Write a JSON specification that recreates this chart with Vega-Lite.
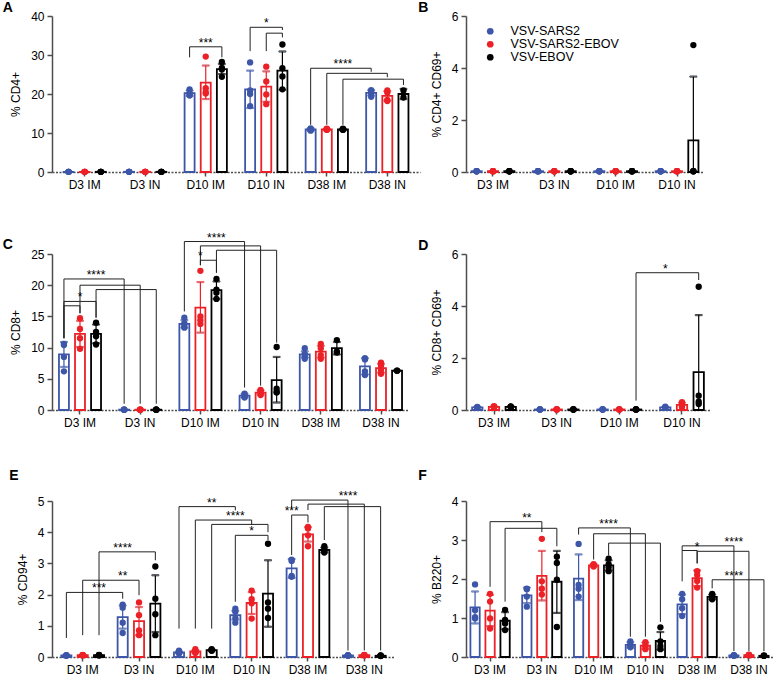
{
"$schema":"https://vega.github.io/schema/vega-lite/v6.json",
"padding":{"left":2,"top":1,"right":0,"bottom":0},
"config":{
 "font":"Liberation Sans",
 "view":{"stroke":null},
 "axis":{"labelFontSize":12,"titleFontSize":12,"titleFontWeight":"normal","labelColor":"#000","titleColor":"#000","grid":false,"domainColor":"#4d4d4d","tickColor":"#4d4d4d","domainWidth":1.5,"tickWidth":1.5,"labelFont":"Liberation Sans","titleFont":"Liberation Sans"},
 "axisX":{"labelAngle":0,"tickSize":4,"labelPadding":3,"domainDash":[2,1.5]},
 "axisY":{"tickSize":5,"labelPadding":3,"titlePadding":8},
 "title":{"fontSize":14,"fontWeight":"bold","anchor":"start","frame":"bounds","font":"Liberation Sans","color":"#000"},
 "legend":{"labelFontSize":12.5,"labelFont":"Liberation Sans","symbolSize":45,"rowPadding":-1.5,"padding":0,"labelOffset":14,"symbolType":"circle","symbolStrokeWidth":0}
},
"columns":2,
"align":"each",
"spacing":{"row":41,"column":-2},
"resolve":{"scale":{"xOffset":"independent","fill":"independent"},"legend":{"fill":"independent"}},
"datasets":{
"bars":[
{"p":"A","c":"D3 IM","g":"S","v":0.05,"lo":0.05,"hi":0.05},{"p":"A","c":"D3 IM","g":"SE","v":0.05,"lo":0.05,"hi":0.05},{"p":"A","c":"D3 IM","g":"E","v":0.05,"lo":0.05,"hi":0.05},
{"p":"A","c":"D3 IN","g":"S","v":0.05,"lo":0.05,"hi":0.05},{"p":"A","c":"D3 IN","g":"SE","v":0.05,"lo":0.05,"hi":0.05},{"p":"A","c":"D3 IN","g":"E","v":0.05,"lo":0.05,"hi":0.05},
{"p":"A","c":"D10 IM","g":"S","v":20.2,"lo":19.5,"hi":20.9},{"p":"A","c":"D10 IM","g":"SE","v":22.9,"lo":18.7,"hi":27.3},{"p":"A","c":"D10 IM","g":"E","v":26.4,"lo":25.1,"hi":27.7},
{"p":"A","c":"D10 IN","g":"S","v":21.2,"lo":16.4,"hi":26.0},{"p":"A","c":"D10 IN","g":"SE","v":21.9,"lo":18.0,"hi":25.8},{"p":"A","c":"D10 IN","g":"E","v":26.0,"lo":21.1,"hi":30.9},
{"p":"A","c":"D38 IM","g":"S","v":10.9,"lo":10.6,"hi":11.2},{"p":"A","c":"D38 IM","g":"SE","v":10.9,"lo":10.7,"hi":11.1},{"p":"A","c":"D38 IM","g":"E","v":10.9,"lo":10.7,"hi":11.1},
{"p":"A","c":"D38 IN","g":"S","v":20.3,"lo":19.6,"hi":21.0},{"p":"A","c":"D38 IN","g":"SE","v":19.5,"lo":18.3,"hi":20.7},{"p":"A","c":"D38 IN","g":"E","v":20.0,"lo":18.7,"hi":21.3},
{"p":"B","c":"D3 IM","g":"S","v":0.03,"lo":0.03,"hi":0.03},{"p":"B","c":"D3 IM","g":"SE","v":0.03,"lo":0.03,"hi":0.03},{"p":"B","c":"D3 IM","g":"E","v":0.03,"lo":0.03,"hi":0.03},
{"p":"B","c":"D3 IN","g":"S","v":0.03,"lo":0.03,"hi":0.03},{"p":"B","c":"D3 IN","g":"SE","v":0.03,"lo":0.03,"hi":0.03},{"p":"B","c":"D3 IN","g":"E","v":0.03,"lo":0.03,"hi":0.03},
{"p":"B","c":"D10 IM","g":"S","v":0.03,"lo":0.03,"hi":0.03},{"p":"B","c":"D10 IM","g":"SE","v":0.03,"lo":0.03,"hi":0.03},{"p":"B","c":"D10 IM","g":"E","v":0.03,"lo":0.03,"hi":0.03},
{"p":"B","c":"D10 IN","g":"S","v":0.03,"lo":0.03,"hi":0.03},{"p":"B","c":"D10 IN","g":"SE","v":0.03,"lo":0.03,"hi":0.03},{"p":"B","c":"D10 IN","g":"E","v":1.22,"lo":0,"hi":3.67},
{"p":"C","c":"D3 IM","g":"S","v":8.9,"lo":6.9,"hi":10.9},{"p":"C","c":"D3 IM","g":"SE","v":12.2,"lo":10.1,"hi":14.3},{"p":"C","c":"D3 IM","g":"E","v":12.2,"lo":10.7,"hi":13.7},
{"p":"C","c":"D3 IN","g":"S","v":0.05,"lo":0.05,"hi":0.05},{"p":"C","c":"D3 IN","g":"SE","v":0.05,"lo":0.05,"hi":0.05},{"p":"C","c":"D3 IN","g":"E","v":0.05,"lo":0.05,"hi":0.05},
{"p":"C","c":"D10 IM","g":"S","v":13.8,"lo":13.2,"hi":14.4},{"p":"C","c":"D10 IM","g":"SE","v":16.4,"lo":12.4,"hi":20.5},{"p":"C","c":"D10 IM","g":"E","v":19.2,"lo":17.8,"hi":20.6},
{"p":"C","c":"D10 IN","g":"S","v":2.3,"lo":2.0,"hi":2.6},{"p":"C","c":"D10 IN","g":"SE","v":2.8,"lo":2.45,"hi":3.15},{"p":"C","c":"D10 IN","g":"E","v":4.8,"lo":1.2,"hi":8.5},
{"p":"C","c":"D38 IM","g":"S","v":8.9,"lo":8.4,"hi":9.4},{"p":"C","c":"D38 IM","g":"SE","v":9.35,"lo":8.4,"hi":10.3},{"p":"C","c":"D38 IM","g":"E","v":9.9,"lo":8.9,"hi":10.9},
{"p":"C","c":"D38 IN","g":"S","v":7.0,"lo":5.7,"hi":8.3},{"p":"C","c":"D38 IN","g":"SE","v":6.7,"lo":6.0,"hi":7.4},{"p":"C","c":"D38 IN","g":"E","v":6.3,"lo":6.25,"hi":6.35},
{"p":"D","c":"D3 IM","g":"S","v":0.1,"lo":0.08,"hi":0.12},{"p":"D","c":"D3 IM","g":"SE","v":0.12,"lo":0.1,"hi":0.14},{"p":"D","c":"D3 IM","g":"E","v":0.12,"lo":0.1,"hi":0.14},
{"p":"D","c":"D3 IN","g":"S","v":0.02,"lo":0.02,"hi":0.02},{"p":"D","c":"D3 IN","g":"SE","v":0.02,"lo":0.02,"hi":0.02},{"p":"D","c":"D3 IN","g":"E","v":0.02,"lo":0.02,"hi":0.02},
{"p":"D","c":"D10 IM","g":"S","v":0.02,"lo":0.02,"hi":0.02},{"p":"D","c":"D10 IM","g":"SE","v":0.02,"lo":0.02,"hi":0.02},{"p":"D","c":"D10 IM","g":"E","v":0.02,"lo":0.02,"hi":0.02},
{"p":"D","c":"D10 IN","g":"S","v":0.1,"lo":0.08,"hi":0.12},{"p":"D","c":"D10 IN","g":"SE","v":0.2,"lo":0.12,"hi":0.28},{"p":"D","c":"D10 IN","g":"E","v":1.46,"lo":0,"hi":3.65},
{"p":"E","c":"D3 IM","g":"S","v":0.05,"lo":0.05,"hi":0.05},{"p":"E","c":"D3 IM","g":"SE","v":0.06,"lo":0.06,"hi":0.06},{"p":"E","c":"D3 IM","g":"E","v":0.06,"lo":0.06,"hi":0.06},
{"p":"E","c":"D3 IN","g":"S","v":1.28,"lo":0.91,"hi":1.65},{"p":"E","c":"D3 IN","g":"SE","v":1.15,"lo":0.7,"hi":1.6},{"p":"E","c":"D3 IN","g":"E","v":1.71,"lo":0.8,"hi":2.62},
{"p":"E","c":"D10 IM","g":"S","v":0.15,"lo":0.12,"hi":0.18},{"p":"E","c":"D10 IM","g":"SE","v":0.18,"lo":0.14,"hi":0.22},{"p":"E","c":"D10 IM","g":"E","v":0.22,"lo":0.2,"hi":0.24},
{"p":"E","c":"D10 IN","g":"S","v":1.34,"lo":1.2,"hi":1.48},{"p":"E","c":"D10 IN","g":"SE","v":1.73,"lo":1.38,"hi":2.08},{"p":"E","c":"D10 IN","g":"E","v":2.03,"lo":0.97,"hi":3.1},
{"p":"E","c":"D38 IM","g":"S","v":2.84,"lo":2.54,"hi":3.14},{"p":"E","c":"D38 IM","g":"SE","v":3.93,"lo":3.7,"hi":4.16},{"p":"E","c":"D38 IM","g":"E","v":3.43,"lo":3.35,"hi":3.51},
{"p":"E","c":"D38 IN","g":"S","v":0.05,"lo":0.05,"hi":0.05},{"p":"E","c":"D38 IN","g":"SE","v":0.06,"lo":0.06,"hi":0.06},{"p":"E","c":"D38 IN","g":"E","v":0.04,"lo":0.04,"hi":0.04},
{"p":"F","c":"D3 IM","g":"S","v":1.27,"lo":0.86,"hi":1.68},{"p":"F","c":"D3 IM","g":"SE","v":1.19,"lo":0.79,"hi":1.59},{"p":"F","c":"D3 IM","g":"E","v":0.93,"lo":0.71,"hi":1.15},
{"p":"F","c":"D3 IN","g":"S","v":1.58,"lo":1.38,"hi":1.78},{"p":"F","c":"D3 IN","g":"SE","v":2.08,"lo":1.45,"hi":2.72},{"p":"F","c":"D3 IN","g":"E","v":1.93,"lo":1.13,"hi":2.72},
{"p":"F","c":"D10 IM","g":"S","v":2.01,"lo":1.46,"hi":2.63},{"p":"F","c":"D10 IM","g":"SE","v":2.35,"lo":2.32,"hi":2.38},{"p":"F","c":"D10 IM","g":"E","v":2.35,"lo":2.22,"hi":2.48},
{"p":"F","c":"D10 IN","g":"S","v":0.31,"lo":0.24,"hi":0.38},{"p":"F","c":"D10 IN","g":"SE","v":0.29,"lo":0.21,"hi":0.37},{"p":"F","c":"D10 IN","g":"E","v":0.41,"lo":0.19,"hi":0.64},
{"p":"F","c":"D38 IM","g":"S","v":1.35,"lo":1.1,"hi":1.6},{"p":"F","c":"D38 IM","g":"SE","v":2.02,"lo":1.82,"hi":2.22},{"p":"F","c":"D38 IM","g":"E","v":1.54,"lo":1.48,"hi":1.6},
{"p":"F","c":"D38 IN","g":"S","v":0.04,"lo":0.04,"hi":0.04},{"p":"F","c":"D38 IN","g":"SE","v":0.05,"lo":0.05,"hi":0.05},{"p":"F","c":"D38 IN","g":"E","v":0.03,"lo":0.03,"hi":0.03}
],
"pts":[
{"p":"A","c":"D3 IM","g":"S","r":1,"v":0.05},{"p":"A","c":"D3 IM","g":"S","r":2,"v":0.05},{"p":"A","c":"D3 IM","g":"S","r":3,"v":0.05},{"p":"A","c":"D3 IM","g":"S","r":4,"v":0.05},
{"p":"A","c":"D3 IM","g":"SE","r":1,"v":0.05},{"p":"A","c":"D3 IM","g":"SE","r":2,"v":0.05},{"p":"A","c":"D3 IM","g":"SE","r":3,"v":0.05},{"p":"A","c":"D3 IM","g":"SE","r":4,"v":0.05},
{"p":"A","c":"D3 IM","g":"E","r":1,"v":0.05},{"p":"A","c":"D3 IM","g":"E","r":2,"v":0.05},{"p":"A","c":"D3 IM","g":"E","r":3,"v":0.05},{"p":"A","c":"D3 IM","g":"E","r":4,"v":0.05},
{"p":"A","c":"D3 IN","g":"S","r":1,"v":0.05},{"p":"A","c":"D3 IN","g":"S","r":2,"v":0.05},{"p":"A","c":"D3 IN","g":"S","r":3,"v":0.05},{"p":"A","c":"D3 IN","g":"S","r":4,"v":0.05},
{"p":"A","c":"D3 IN","g":"SE","r":1,"v":0.05},{"p":"A","c":"D3 IN","g":"SE","r":2,"v":0.05},{"p":"A","c":"D3 IN","g":"SE","r":3,"v":0.05},{"p":"A","c":"D3 IN","g":"SE","r":4,"v":0.05},
{"p":"A","c":"D3 IN","g":"E","r":1,"v":0.05},{"p":"A","c":"D3 IN","g":"E","r":2,"v":0.05},{"p":"A","c":"D3 IN","g":"E","r":3,"v":0.05},{"p":"A","c":"D3 IN","g":"E","r":4,"v":0.05},
{"p":"A","c":"D10 IM","g":"S","r":1,"v":21.2},{"p":"A","c":"D10 IM","g":"S","r":2,"v":20.3},{"p":"A","c":"D10 IM","g":"S","r":3,"v":19.8},{"p":"A","c":"D10 IM","g":"S","r":4,"v":19.6},
{"p":"A","c":"D10 IM","g":"SE","r":1,"v":29.6},{"p":"A","c":"D10 IM","g":"SE","r":2,"v":21.5},{"p":"A","c":"D10 IM","g":"SE","r":3,"v":20.5},{"p":"A","c":"D10 IM","g":"SE","r":4,"v":20.1},
{"p":"A","c":"D10 IM","g":"E","r":1,"v":28.2},{"p":"A","c":"D10 IM","g":"E","r":2,"v":26.7},{"p":"A","c":"D10 IM","g":"E","r":3,"v":26.3},{"p":"A","c":"D10 IM","g":"E","r":4,"v":24.4},
{"p":"A","c":"D10 IN","g":"S","r":1,"v":28.1},{"p":"A","c":"D10 IN","g":"S","r":2,"v":20.9},{"p":"A","c":"D10 IN","g":"S","r":3,"v":20.0},{"p":"A","c":"D10 IN","g":"S","r":4,"v":16.9},
{"p":"A","c":"D10 IN","g":"SE","r":1,"v":27.0},{"p":"A","c":"D10 IN","g":"SE","r":2,"v":23.2},{"p":"A","c":"D10 IN","g":"SE","r":3,"v":19.9},{"p":"A","c":"D10 IN","g":"SE","r":4,"v":17.4},
{"p":"A","c":"D10 IN","g":"E","r":1,"v":32.7},{"p":"A","c":"D10 IN","g":"E","r":2,"v":26.6},{"p":"A","c":"D10 IN","g":"E","r":3,"v":24.5},{"p":"A","c":"D10 IN","g":"E","r":4,"v":21.2},
{"p":"A","c":"D38 IM","g":"S","r":1,"v":11.2},{"p":"A","c":"D38 IM","g":"S","r":2,"v":11.0},{"p":"A","c":"D38 IM","g":"S","r":3,"v":10.8},{"p":"A","c":"D38 IM","g":"S","r":4,"v":10.6},
{"p":"A","c":"D38 IM","g":"SE","r":1,"v":11.1},{"p":"A","c":"D38 IM","g":"SE","r":2,"v":11.0},{"p":"A","c":"D38 IM","g":"SE","r":3,"v":10.9},{"p":"A","c":"D38 IM","g":"SE","r":4,"v":10.8},
{"p":"A","c":"D38 IM","g":"E","r":1,"v":11.1},{"p":"A","c":"D38 IM","g":"E","r":2,"v":11.0},{"p":"A","c":"D38 IM","g":"E","r":3,"v":10.9},{"p":"A","c":"D38 IM","g":"E","r":4,"v":10.8},
{"p":"A","c":"D38 IN","g":"S","r":1,"v":21.0},{"p":"A","c":"D38 IN","g":"S","r":2,"v":20.6},{"p":"A","c":"D38 IN","g":"S","r":3,"v":20.2},{"p":"A","c":"D38 IN","g":"S","r":4,"v":19.3},
{"p":"A","c":"D38 IN","g":"SE","r":1,"v":20.9},{"p":"A","c":"D38 IN","g":"SE","r":2,"v":20.4},{"p":"A","c":"D38 IN","g":"SE","r":3,"v":18.5},{"p":"A","c":"D38 IN","g":"SE","r":4,"v":18.2},
{"p":"A","c":"D38 IN","g":"E","r":1,"v":20.9},{"p":"A","c":"D38 IN","g":"E","r":2,"v":19.1},
{"p":"B","c":"D3 IM","g":"S","r":1,"v":0.03},{"p":"B","c":"D3 IM","g":"S","r":2,"v":0.03},{"p":"B","c":"D3 IM","g":"S","r":3,"v":0.03},{"p":"B","c":"D3 IM","g":"S","r":4,"v":0.03},
{"p":"B","c":"D3 IM","g":"SE","r":1,"v":0.03},{"p":"B","c":"D3 IM","g":"SE","r":2,"v":0.03},{"p":"B","c":"D3 IM","g":"SE","r":3,"v":0.03},{"p":"B","c":"D3 IM","g":"SE","r":4,"v":0.03},
{"p":"B","c":"D3 IM","g":"E","r":1,"v":0.03},{"p":"B","c":"D3 IM","g":"E","r":2,"v":0.03},{"p":"B","c":"D3 IM","g":"E","r":3,"v":0.03},{"p":"B","c":"D3 IM","g":"E","r":4,"v":0.03},
{"p":"B","c":"D3 IN","g":"S","r":1,"v":0.03},{"p":"B","c":"D3 IN","g":"S","r":2,"v":0.03},{"p":"B","c":"D3 IN","g":"S","r":3,"v":0.03},{"p":"B","c":"D3 IN","g":"S","r":4,"v":0.03},
{"p":"B","c":"D3 IN","g":"SE","r":1,"v":0.03},{"p":"B","c":"D3 IN","g":"SE","r":2,"v":0.03},{"p":"B","c":"D3 IN","g":"SE","r":3,"v":0.03},{"p":"B","c":"D3 IN","g":"SE","r":4,"v":0.03},
{"p":"B","c":"D3 IN","g":"E","r":1,"v":0.03},{"p":"B","c":"D3 IN","g":"E","r":2,"v":0.03},{"p":"B","c":"D3 IN","g":"E","r":3,"v":0.03},{"p":"B","c":"D3 IN","g":"E","r":4,"v":0.03},
{"p":"B","c":"D10 IM","g":"S","r":1,"v":0.03},{"p":"B","c":"D10 IM","g":"S","r":2,"v":0.03},{"p":"B","c":"D10 IM","g":"S","r":3,"v":0.03},{"p":"B","c":"D10 IM","g":"S","r":4,"v":0.03},
{"p":"B","c":"D10 IM","g":"SE","r":1,"v":0.03},{"p":"B","c":"D10 IM","g":"SE","r":2,"v":0.03},{"p":"B","c":"D10 IM","g":"SE","r":3,"v":0.03},{"p":"B","c":"D10 IM","g":"SE","r":4,"v":0.03},
{"p":"B","c":"D10 IM","g":"E","r":1,"v":0.03},{"p":"B","c":"D10 IM","g":"E","r":2,"v":0.03},{"p":"B","c":"D10 IM","g":"E","r":3,"v":0.03},{"p":"B","c":"D10 IM","g":"E","r":4,"v":0.03},
{"p":"B","c":"D10 IN","g":"S","r":1,"v":0.03},{"p":"B","c":"D10 IN","g":"S","r":2,"v":0.03},{"p":"B","c":"D10 IN","g":"S","r":3,"v":0.03},{"p":"B","c":"D10 IN","g":"S","r":4,"v":0.03},
{"p":"B","c":"D10 IN","g":"SE","r":1,"v":0.03},{"p":"B","c":"D10 IN","g":"SE","r":2,"v":0.03},{"p":"B","c":"D10 IN","g":"SE","r":3,"v":0.03},{"p":"B","c":"D10 IN","g":"SE","r":4,"v":0.03},
{"p":"B","c":"D10 IN","g":"E","r":1,"v":4.88},{"p":"B","c":"D10 IN","g":"E","r":2,"v":0.03},{"p":"B","c":"D10 IN","g":"E","r":3,"v":0.03},{"p":"B","c":"D10 IN","g":"E","r":4,"v":0.03},
{"p":"C","c":"D3 IM","g":"S","r":1,"v":10.6},{"p":"C","c":"D3 IM","g":"S","r":2,"v":10.4},{"p":"C","c":"D3 IM","g":"S","r":3,"v":8.5},{"p":"C","c":"D3 IM","g":"S","r":4,"v":6.2},
{"p":"C","c":"D3 IM","g":"SE","r":1,"v":14.7},{"p":"C","c":"D3 IM","g":"SE","r":2,"v":13.0},{"p":"C","c":"D3 IM","g":"SE","r":3,"v":11.5},{"p":"C","c":"D3 IM","g":"SE","r":4,"v":9.8},
{"p":"C","c":"D3 IM","g":"E","r":1,"v":14.0},{"p":"C","c":"D3 IM","g":"E","r":2,"v":12.5},{"p":"C","c":"D3 IM","g":"E","r":3,"v":11.8},{"p":"C","c":"D3 IM","g":"E","r":4,"v":10.5},
{"p":"C","c":"D3 IN","g":"S","r":1,"v":0.05},{"p":"C","c":"D3 IN","g":"S","r":2,"v":0.05},{"p":"C","c":"D3 IN","g":"S","r":3,"v":0.05},{"p":"C","c":"D3 IN","g":"S","r":4,"v":0.05},
{"p":"C","c":"D3 IN","g":"SE","r":1,"v":0.05},{"p":"C","c":"D3 IN","g":"SE","r":2,"v":0.05},{"p":"C","c":"D3 IN","g":"SE","r":3,"v":0.05},{"p":"C","c":"D3 IN","g":"SE","r":4,"v":0.05},
{"p":"C","c":"D3 IN","g":"E","r":1,"v":0.05},{"p":"C","c":"D3 IN","g":"E","r":2,"v":0.05},{"p":"C","c":"D3 IN","g":"E","r":3,"v":0.05},{"p":"C","c":"D3 IN","g":"E","r":4,"v":0.05},
{"p":"C","c":"D10 IM","g":"S","r":1,"v":14.8},{"p":"C","c":"D10 IM","g":"S","r":2,"v":13.9},{"p":"C","c":"D10 IM","g":"S","r":3,"v":13.5},{"p":"C","c":"D10 IM","g":"S","r":4,"v":13.2},
{"p":"C","c":"D10 IM","g":"SE","r":1,"v":22.3},{"p":"C","c":"D10 IM","g":"SE","r":2,"v":15.0},{"p":"C","c":"D10 IM","g":"SE","r":3,"v":14.4},{"p":"C","c":"D10 IM","g":"SE","r":4,"v":13.8},
{"p":"C","c":"D10 IM","g":"E","r":1,"v":21.0},{"p":"C","c":"D10 IM","g":"E","r":2,"v":19.3},{"p":"C","c":"D10 IM","g":"E","r":3,"v":18.8},{"p":"C","c":"D10 IM","g":"E","r":4,"v":17.8},
{"p":"C","c":"D10 IN","g":"S","r":1,"v":2.6},{"p":"C","c":"D10 IN","g":"S","r":2,"v":2.3},{"p":"C","c":"D10 IN","g":"S","r":3,"v":2.2},{"p":"C","c":"D10 IN","g":"S","r":4,"v":2.0},
{"p":"C","c":"D10 IN","g":"SE","r":1,"v":3.2},{"p":"C","c":"D10 IN","g":"SE","r":2,"v":3.0},{"p":"C","c":"D10 IN","g":"SE","r":3,"v":2.7},{"p":"C","c":"D10 IN","g":"SE","r":4,"v":2.4},
{"p":"C","c":"D10 IN","g":"E","r":1,"v":10.1},{"p":"C","c":"D10 IN","g":"E","r":2,"v":3.4},{"p":"C","c":"D10 IN","g":"E","r":3,"v":2.9},{"p":"C","c":"D10 IN","g":"E","r":4,"v":2.8},
{"p":"C","c":"D38 IM","g":"S","r":1,"v":9.9},{"p":"C","c":"D38 IM","g":"S","r":2,"v":9.0},{"p":"C","c":"D38 IM","g":"S","r":3,"v":8.6},{"p":"C","c":"D38 IM","g":"S","r":4,"v":8.2},
{"p":"C","c":"D38 IM","g":"SE","r":1,"v":10.6},{"p":"C","c":"D38 IM","g":"SE","r":2,"v":9.9},{"p":"C","c":"D38 IM","g":"SE","r":3,"v":8.8},{"p":"C","c":"D38 IM","g":"SE","r":4,"v":8.2},
{"p":"C","c":"D38 IM","g":"E","r":1,"v":11.2},{"p":"C","c":"D38 IM","g":"E","r":2,"v":9.4},{"p":"C","c":"D38 IM","g":"E","r":3,"v":9.2},
{"p":"C","c":"D38 IN","g":"S","r":1,"v":8.3},{"p":"C","c":"D38 IN","g":"S","r":2,"v":8.1},{"p":"C","c":"D38 IN","g":"S","r":3,"v":6.2},{"p":"C","c":"D38 IN","g":"S","r":4,"v":5.6},
{"p":"C","c":"D38 IN","g":"SE","r":1,"v":7.6},{"p":"C","c":"D38 IN","g":"SE","r":2,"v":7.1},{"p":"C","c":"D38 IN","g":"SE","r":3,"v":6.4},{"p":"C","c":"D38 IN","g":"SE","r":4,"v":5.8},
{"p":"C","c":"D38 IN","g":"E","r":1,"v":6.3},{"p":"C","c":"D38 IN","g":"E","r":2,"v":6.3},
{"p":"D","c":"D3 IM","g":"S","r":1,"v":0.12},{"p":"D","c":"D3 IM","g":"S","r":2,"v":0.1},{"p":"D","c":"D3 IM","g":"S","r":3,"v":0.09},{"p":"D","c":"D3 IM","g":"S","r":4,"v":0.08},
{"p":"D","c":"D3 IM","g":"SE","r":1,"v":0.15},{"p":"D","c":"D3 IM","g":"SE","r":2,"v":0.13},{"p":"D","c":"D3 IM","g":"SE","r":3,"v":0.11},{"p":"D","c":"D3 IM","g":"SE","r":4,"v":0.1},
{"p":"D","c":"D3 IM","g":"E","r":1,"v":0.14},{"p":"D","c":"D3 IM","g":"E","r":2,"v":0.13},{"p":"D","c":"D3 IM","g":"E","r":3,"v":0.12},{"p":"D","c":"D3 IM","g":"E","r":4,"v":0.1},
{"p":"D","c":"D3 IN","g":"S","r":1,"v":0.02},{"p":"D","c":"D3 IN","g":"S","r":2,"v":0.02},{"p":"D","c":"D3 IN","g":"S","r":3,"v":0.02},{"p":"D","c":"D3 IN","g":"S","r":4,"v":0.02},
{"p":"D","c":"D3 IN","g":"SE","r":1,"v":0.02},{"p":"D","c":"D3 IN","g":"SE","r":2,"v":0.02},{"p":"D","c":"D3 IN","g":"SE","r":3,"v":0.02},{"p":"D","c":"D3 IN","g":"SE","r":4,"v":0.02},
{"p":"D","c":"D3 IN","g":"E","r":1,"v":0.02},{"p":"D","c":"D3 IN","g":"E","r":2,"v":0.02},{"p":"D","c":"D3 IN","g":"E","r":3,"v":0.02},{"p":"D","c":"D3 IN","g":"E","r":4,"v":0.02},
{"p":"D","c":"D10 IM","g":"S","r":1,"v":0.02},{"p":"D","c":"D10 IM","g":"S","r":2,"v":0.02},{"p":"D","c":"D10 IM","g":"S","r":3,"v":0.02},{"p":"D","c":"D10 IM","g":"S","r":4,"v":0.02},
{"p":"D","c":"D10 IM","g":"SE","r":1,"v":0.02},{"p":"D","c":"D10 IM","g":"SE","r":2,"v":0.02},{"p":"D","c":"D10 IM","g":"SE","r":3,"v":0.02},{"p":"D","c":"D10 IM","g":"SE","r":4,"v":0.02},
{"p":"D","c":"D10 IM","g":"E","r":1,"v":0.02},{"p":"D","c":"D10 IM","g":"E","r":2,"v":0.02},{"p":"D","c":"D10 IM","g":"E","r":3,"v":0.02},{"p":"D","c":"D10 IM","g":"E","r":4,"v":0.02},
{"p":"D","c":"D10 IN","g":"S","r":1,"v":0.13},{"p":"D","c":"D10 IN","g":"S","r":2,"v":0.1},{"p":"D","c":"D10 IN","g":"S","r":3,"v":0.09},{"p":"D","c":"D10 IN","g":"S","r":4,"v":0.08},
{"p":"D","c":"D10 IN","g":"SE","r":1,"v":0.3},{"p":"D","c":"D10 IN","g":"SE","r":2,"v":0.22},{"p":"D","c":"D10 IN","g":"SE","r":3,"v":0.17},{"p":"D","c":"D10 IN","g":"SE","r":4,"v":0.12},
{"p":"D","c":"D10 IN","g":"E","r":1,"v":4.74},{"p":"D","c":"D10 IN","g":"E","r":2,"v":0.55},{"p":"D","c":"D10 IN","g":"E","r":3,"v":0.32},{"p":"D","c":"D10 IN","g":"E","r":4,"v":0.23},
{"p":"E","c":"D3 IM","g":"S","r":1,"v":0.06},{"p":"E","c":"D3 IM","g":"S","r":2,"v":0.05},{"p":"E","c":"D3 IM","g":"S","r":3,"v":0.05},{"p":"E","c":"D3 IM","g":"S","r":4,"v":0.04},
{"p":"E","c":"D3 IM","g":"SE","r":1,"v":0.07},{"p":"E","c":"D3 IM","g":"SE","r":2,"v":0.06},{"p":"E","c":"D3 IM","g":"SE","r":3,"v":0.06},{"p":"E","c":"D3 IM","g":"SE","r":4,"v":0.05},
{"p":"E","c":"D3 IM","g":"E","r":1,"v":0.07},{"p":"E","c":"D3 IM","g":"E","r":2,"v":0.06},{"p":"E","c":"D3 IM","g":"E","r":3,"v":0.06},{"p":"E","c":"D3 IM","g":"E","r":4,"v":0.05},
{"p":"E","c":"D3 IN","g":"S","r":1,"v":1.68},{"p":"E","c":"D3 IN","g":"S","r":2,"v":1.58},{"p":"E","c":"D3 IN","g":"S","r":3,"v":1.1},{"p":"E","c":"D3 IN","g":"S","r":4,"v":0.77},
{"p":"E","c":"D3 IN","g":"SE","r":1,"v":1.75},{"p":"E","c":"D3 IN","g":"SE","r":2,"v":1.34},{"p":"E","c":"D3 IN","g":"SE","r":3,"v":0.85},{"p":"E","c":"D3 IN","g":"SE","r":4,"v":0.7},
{"p":"E","c":"D3 IN","g":"E","r":1,"v":2.9},{"p":"E","c":"D3 IN","g":"E","r":2,"v":1.87},{"p":"E","c":"D3 IN","g":"E","r":3,"v":1.37},{"p":"E","c":"D3 IN","g":"E","r":4,"v":0.7},
{"p":"E","c":"D10 IM","g":"S","r":1,"v":0.2},{"p":"E","c":"D10 IM","g":"S","r":2,"v":0.16},{"p":"E","c":"D10 IM","g":"S","r":3,"v":0.13},{"p":"E","c":"D10 IM","g":"S","r":4,"v":0.11},
{"p":"E","c":"D10 IM","g":"SE","r":1,"v":0.25},{"p":"E","c":"D10 IM","g":"SE","r":2,"v":0.19},{"p":"E","c":"D10 IM","g":"SE","r":3,"v":0.16},{"p":"E","c":"D10 IM","g":"SE","r":4,"v":0.13},
{"p":"E","c":"D10 IM","g":"E","r":1,"v":0.25},{"p":"E","c":"D10 IM","g":"E","r":2,"v":0.23},{"p":"E","c":"D10 IM","g":"E","r":3,"v":0.21},{"p":"E","c":"D10 IM","g":"E","r":4,"v":0.2},
{"p":"E","c":"D10 IN","g":"S","r":1,"v":1.55},{"p":"E","c":"D10 IN","g":"S","r":2,"v":1.45},{"p":"E","c":"D10 IN","g":"S","r":3,"v":1.25},{"p":"E","c":"D10 IN","g":"S","r":4,"v":1.1},
{"p":"E","c":"D10 IN","g":"SE","r":1,"v":2.13},{"p":"E","c":"D10 IN","g":"SE","r":2,"v":1.85},{"p":"E","c":"D10 IN","g":"SE","r":3,"v":1.72},{"p":"E","c":"D10 IN","g":"SE","r":4,"v":1.23},
{"p":"E","c":"D10 IN","g":"E","r":1,"v":3.63},{"p":"E","c":"D10 IN","g":"E","r":2,"v":1.75},{"p":"E","c":"D10 IN","g":"E","r":3,"v":1.55},{"p":"E","c":"D10 IN","g":"E","r":4,"v":1.25},
{"p":"E","c":"D38 IM","g":"S","r":1,"v":3.12},{"p":"E","c":"D38 IM","g":"S","r":2,"v":3.08},{"p":"E","c":"D38 IM","g":"S","r":3,"v":2.6},{"p":"E","c":"D38 IM","g":"S","r":4,"v":2.57},
{"p":"E","c":"D38 IM","g":"SE","r":1,"v":4.17},{"p":"E","c":"D38 IM","g":"SE","r":2,"v":4.12},{"p":"E","c":"D38 IM","g":"SE","r":3,"v":3.9},{"p":"E","c":"D38 IM","g":"SE","r":4,"v":3.55},
{"p":"E","c":"D38 IM","g":"E","r":1,"v":3.55},{"p":"E","c":"D38 IM","g":"E","r":2,"v":3.45},{"p":"E","c":"D38 IM","g":"E","r":3,"v":3.4},{"p":"E","c":"D38 IM","g":"E","r":4,"v":3.35},
{"p":"E","c":"D38 IN","g":"S","r":1,"v":0.06},{"p":"E","c":"D38 IN","g":"S","r":2,"v":0.05},{"p":"E","c":"D38 IN","g":"S","r":3,"v":0.05},{"p":"E","c":"D38 IN","g":"S","r":4,"v":0.04},
{"p":"E","c":"D38 IN","g":"SE","r":1,"v":0.07},{"p":"E","c":"D38 IN","g":"SE","r":2,"v":0.06},{"p":"E","c":"D38 IN","g":"SE","r":3,"v":0.06},{"p":"E","c":"D38 IN","g":"SE","r":4,"v":0.05},
{"p":"E","c":"D38 IN","g":"E","r":1,"v":0.05},{"p":"E","c":"D38 IN","g":"E","r":2,"v":0.04},{"p":"E","c":"D38 IN","g":"E","r":3,"v":0.04},{"p":"E","c":"D38 IN","g":"E","r":4,"v":0.03},
{"p":"F","c":"D3 IM","g":"S","r":1,"v":1.86},{"p":"F","c":"D3 IM","g":"S","r":2,"v":1.2},{"p":"F","c":"D3 IM","g":"S","r":3,"v":1.02},{"p":"F","c":"D3 IM","g":"S","r":4,"v":0.99},
{"p":"F","c":"D3 IM","g":"SE","r":1,"v":1.62},{"p":"F","c":"D3 IM","g":"SE","r":2,"v":1.42},{"p":"F","c":"D3 IM","g":"SE","r":3,"v":0.99},{"p":"F","c":"D3 IM","g":"SE","r":4,"v":0.73},
{"p":"F","c":"D3 IM","g":"E","r":1,"v":1.21},{"p":"F","c":"D3 IM","g":"E","r":2,"v":0.95},{"p":"F","c":"D3 IM","g":"E","r":3,"v":0.86},{"p":"F","c":"D3 IM","g":"E","r":4,"v":0.69},
{"p":"F","c":"D3 IN","g":"S","r":1,"v":1.75},{"p":"F","c":"D3 IN","g":"S","r":2,"v":1.74},{"p":"F","c":"D3 IN","g":"S","r":3,"v":1.55},{"p":"F","c":"D3 IN","g":"S","r":4,"v":1.29},
{"p":"F","c":"D3 IN","g":"SE","r":1,"v":3.03},{"p":"F","c":"D3 IN","g":"SE","r":2,"v":1.94},{"p":"F","c":"D3 IN","g":"SE","r":3,"v":1.75},{"p":"F","c":"D3 IN","g":"SE","r":4,"v":1.6},
{"p":"F","c":"D3 IN","g":"E","r":1,"v":2.57},{"p":"F","c":"D3 IN","g":"E","r":2,"v":2.41},{"p":"F","c":"D3 IN","g":"E","r":3,"v":1.98},{"p":"F","c":"D3 IN","g":"E","r":4,"v":0.77},
{"p":"F","c":"D10 IM","g":"S","r":1,"v":2.9},{"p":"F","c":"D10 IM","g":"S","r":2,"v":1.85},{"p":"F","c":"D10 IM","g":"S","r":3,"v":1.75},{"p":"F","c":"D10 IM","g":"S","r":4,"v":1.55},
{"p":"F","c":"D10 IM","g":"SE","r":1,"v":2.38},{"p":"F","c":"D10 IM","g":"SE","r":2,"v":2.36},{"p":"F","c":"D10 IM","g":"SE","r":3,"v":2.34},{"p":"F","c":"D10 IM","g":"SE","r":4,"v":2.32},
{"p":"F","c":"D10 IM","g":"E","r":1,"v":2.52},{"p":"F","c":"D10 IM","g":"E","r":2,"v":2.38},{"p":"F","c":"D10 IM","g":"E","r":3,"v":2.3},{"p":"F","c":"D10 IM","g":"E","r":4,"v":2.2},
{"p":"F","c":"D10 IN","g":"S","r":1,"v":0.4},{"p":"F","c":"D10 IN","g":"S","r":2,"v":0.32},{"p":"F","c":"D10 IN","g":"S","r":3,"v":0.28},{"p":"F","c":"D10 IN","g":"S","r":4,"v":0.25},
{"p":"F","c":"D10 IN","g":"SE","r":1,"v":0.38},{"p":"F","c":"D10 IN","g":"SE","r":2,"v":0.3},{"p":"F","c":"D10 IN","g":"SE","r":3,"v":0.27},{"p":"F","c":"D10 IN","g":"SE","r":4,"v":0.2},
{"p":"F","c":"D10 IN","g":"E","r":1,"v":0.76},{"p":"F","c":"D10 IN","g":"E","r":2,"v":0.4},{"p":"F","c":"D10 IN","g":"E","r":3,"v":0.28},{"p":"F","c":"D10 IN","g":"E","r":4,"v":0.2},
{"p":"F","c":"D38 IM","g":"S","r":1,"v":1.62},{"p":"F","c":"D38 IM","g":"S","r":2,"v":1.48},{"p":"F","c":"D38 IM","g":"S","r":3,"v":1.25},{"p":"F","c":"D38 IM","g":"S","r":4,"v":1.05},
{"p":"F","c":"D38 IM","g":"SE","r":1,"v":2.2},{"p":"F","c":"D38 IM","g":"SE","r":2,"v":2.1},{"p":"F","c":"D38 IM","g":"SE","r":3,"v":1.95},{"p":"F","c":"D38 IM","g":"SE","r":4,"v":1.78},
{"p":"F","c":"D38 IM","g":"E","r":1,"v":1.62},{"p":"F","c":"D38 IM","g":"E","r":2,"v":1.55},{"p":"F","c":"D38 IM","g":"E","r":3,"v":1.52},{"p":"F","c":"D38 IM","g":"E","r":4,"v":1.48},
{"p":"F","c":"D38 IN","g":"S","r":1,"v":0.05},{"p":"F","c":"D38 IN","g":"S","r":2,"v":0.04},{"p":"F","c":"D38 IN","g":"S","r":3,"v":0.04},{"p":"F","c":"D38 IN","g":"S","r":4,"v":0.03},
{"p":"F","c":"D38 IN","g":"SE","r":1,"v":0.06},{"p":"F","c":"D38 IN","g":"SE","r":2,"v":0.05},{"p":"F","c":"D38 IN","g":"SE","r":3,"v":0.05},{"p":"F","c":"D38 IN","g":"SE","r":4,"v":0.04},
{"p":"F","c":"D38 IN","g":"E","r":1,"v":0.04},{"p":"F","c":"D38 IN","g":"E","r":2,"v":0.03},{"p":"F","c":"D38 IN","g":"E","r":3,"v":0.03},{"p":"F","c":"D38 IN","g":"E","r":4,"v":0.03}
],
"br":[
{"p":"A","id":"a1","o":1,"c":"D10 IM","g":"S","v":29.4},{"p":"A","id":"a1","o":2,"c":"D10 IM","g":"S","v":32.1},{"p":"A","id":"a1","o":3,"c":"D10 IM","g":"E","v":32.1},{"p":"A","id":"a1","o":4,"c":"D10 IM","g":"E","v":29.4},
{"p":"A","id":"a2","o":1,"c":"D10 IN","g":"S","v":31.0},{"p":"A","id":"a2","o":2,"c":"D10 IN","g":"S","v":37.1},{"p":"A","id":"a2","o":3,"c":"D10 IN","g":"E","v":37.1},{"p":"A","id":"a2","o":4,"c":"D10 IN","g":"E","v":36.4},
{"p":"A","id":"a3","o":1,"c":"D10 IN","g":"SE","v":31.0},{"p":"A","id":"a3","o":2,"c":"D10 IN","g":"SE","v":35.6},{"p":"A","id":"a3","o":3,"c":"D10 IN","g":"E","v":35.6},{"p":"A","id":"a3","o":4,"c":"D10 IN","g":"E","v":34.5},
{"p":"A","id":"a4","o":1,"c":"D38 IM","g":"S","v":12.1},{"p":"A","id":"a4","o":2,"c":"D38 IM","g":"S","v":26.6},{"p":"A","id":"a4","o":3,"c":"D38 IN","g":"S","v":26.6},{"p":"A","id":"a4","o":4,"c":"D38 IN","g":"S","v":25.7},
{"p":"A","id":"a5","o":1,"c":"D38 IM","g":"SE","v":12.1},{"p":"A","id":"a5","o":2,"c":"D38 IM","g":"SE","v":25.3},{"p":"A","id":"a5","o":3,"c":"D38 IN","g":"SE","v":25.3},{"p":"A","id":"a5","o":4,"c":"D38 IN","g":"SE","v":24.3},
{"p":"A","id":"a6","o":1,"c":"D38 IM","g":"E","v":12.1},{"p":"A","id":"a6","o":2,"c":"D38 IM","g":"E","v":23.8},{"p":"A","id":"a6","o":3,"c":"D38 IN","g":"E","v":23.8},{"p":"A","id":"a6","o":4,"c":"D38 IN","g":"E","v":22.3},
{"p":"C","id":"c1","o":1,"c":"D3 IM","g":"S","v":11.5},{"p":"C","id":"c1","o":2,"c":"D3 IM","g":"S","v":21.0},{"p":"C","id":"c1","o":3,"c":"D3 IN","g":"S","v":21.0},{"p":"C","id":"c1","o":4,"c":"D3 IN","g":"S","v":1.0},
{"p":"C","id":"c2","o":1,"c":"D3 IM","g":"SE","v":15.5},{"p":"C","id":"c2","o":2,"c":"D3 IM","g":"SE","v":20.0},{"p":"C","id":"c2","o":3,"c":"D3 IN","g":"SE","v":20.0},{"p":"C","id":"c2","o":4,"c":"D3 IN","g":"SE","v":1.0},
{"p":"C","id":"c3","o":1,"c":"D3 IM","g":"E","v":14.8},{"p":"C","id":"c3","o":2,"c":"D3 IM","g":"E","v":19.3},{"p":"C","id":"c3","o":3,"c":"D3 IN","g":"E","v":19.3},{"p":"C","id":"c3","o":4,"c":"D3 IN","g":"E","v":1.0},
{"p":"C","id":"c4","o":1,"c":"D3 IM","g":"S","v":11.5},{"p":"C","id":"c4","o":2,"c":"D3 IM","g":"S","v":17.4},{"p":"C","id":"c4","o":3,"c":"D3 IM","g":"E","v":17.4},{"p":"C","id":"c4","o":4,"c":"D3 IM","g":"E","v":14.8},
{"p":"C","id":"c5","o":1,"c":"D3 IM","g":"S","v":11.5},{"p":"C","id":"c5","o":2,"c":"D3 IM","g":"S","v":16.7},{"p":"C","id":"c5","o":3,"c":"D3 IM","g":"SE","v":16.7},{"p":"C","id":"c5","o":4,"c":"D3 IM","g":"SE","v":15.5},
{"p":"C","id":"c6","o":1,"c":"D10 IM","g":"S","v":15.8},{"p":"C","id":"c6","o":2,"c":"D10 IM","g":"S","v":27.0},{"p":"C","id":"c6","o":3,"c":"D10 IN","g":"S","v":27.0},{"p":"C","id":"c6","o":4,"c":"D10 IN","g":"S","v":3.6},
{"p":"C","id":"c7","o":1,"c":"D10 IM","g":"SE","v":23.2},{"p":"C","id":"c7","o":2,"c":"D10 IM","g":"SE","v":26.3},{"p":"C","id":"c7","o":3,"c":"D10 IN","g":"SE","v":26.3},{"p":"C","id":"c7","o":4,"c":"D10 IN","g":"SE","v":3.9},
{"p":"C","id":"c8","o":1,"c":"D10 IM","g":"E","v":22.0},{"p":"C","id":"c8","o":2,"c":"D10 IM","g":"E","v":25.6},{"p":"C","id":"c8","o":3,"c":"D10 IN","g":"E","v":25.6},{"p":"C","id":"c8","o":4,"c":"D10 IN","g":"E","v":10.8},
{"p":"C","id":"c9","o":1,"c":"D10 IM","g":"SE","v":23.2},{"p":"C","id":"c9","o":2,"c":"D10 IM","g":"SE","v":24.0},{"p":"C","id":"c9","o":3,"c":"D10 IM","g":"E","v":24.0},{"p":"C","id":"c9","o":4,"c":"D10 IM","g":"E","v":22.0},
{"p":"D","id":"d1","o":1,"c":"D10 IM","g":"E","v":0.36},{"p":"D","id":"d1","o":2,"c":"D10 IM","g":"E","v":5.28},{"p":"D","id":"d1","o":3,"c":"D10 IN","g":"E","v":5.28},{"p":"D","id":"d1","o":4,"c":"D10 IN","g":"E","v":5.0},
{"p":"E","id":"e1","o":1,"c":"D3 IM","g":"S","v":0.61},{"p":"E","id":"e1","o":2,"c":"D3 IM","g":"S","v":2.07},{"p":"E","id":"e1","o":3,"c":"D3 IN","g":"S","v":2.07},{"p":"E","id":"e1","o":4,"c":"D3 IN","g":"S","v":1.87},
{"p":"E","id":"e2","o":1,"c":"D3 IM","g":"SE","v":0.7},{"p":"E","id":"e2","o":2,"c":"D3 IM","g":"SE","v":2.46},{"p":"E","id":"e2","o":3,"c":"D3 IN","g":"SE","v":2.46},{"p":"E","id":"e2","o":4,"c":"D3 IN","g":"SE","v":1.98},
{"p":"E","id":"e3","o":1,"c":"D3 IM","g":"E","v":0.7},{"p":"E","id":"e3","o":2,"c":"D3 IM","g":"E","v":3.37},{"p":"E","id":"e3","o":3,"c":"D3 IN","g":"E","v":3.37},{"p":"E","id":"e3","o":4,"c":"D3 IN","g":"E","v":3.1},
{"p":"E","id":"e4","o":1,"c":"D10 IM","g":"S","v":0.91},{"p":"E","id":"e4","o":2,"c":"D10 IM","g":"S","v":4.82},{"p":"E","id":"e4","o":3,"c":"D10 IN","g":"S","v":4.82},{"p":"E","id":"e4","o":4,"c":"D10 IN","g":"S","v":4.7},
{"p":"E","id":"e5","o":1,"c":"D10 IM","g":"SE","v":0.91},{"p":"E","id":"e5","o":2,"c":"D10 IM","g":"SE","v":4.39},{"p":"E","id":"e5","o":3,"c":"D10 IN","g":"SE","v":4.39},{"p":"E","id":"e5","o":4,"c":"D10 IN","g":"SE","v":4.23},
{"p":"E","id":"e6","o":1,"c":"D10 IM","g":"E","v":0.91},{"p":"E","id":"e6","o":2,"c":"D10 IM","g":"E","v":4.25},{"p":"E","id":"e6","o":3,"c":"D10 IN","g":"E","v":4.25},{"p":"E","id":"e6","o":4,"c":"D10 IN","g":"E","v":4.0},
{"p":"E","id":"e7","o":1,"c":"D10 IN","g":"S","v":1.77},{"p":"E","id":"e7","o":2,"c":"D10 IN","g":"S","v":3.9},{"p":"E","id":"e7","o":3,"c":"D10 IN","g":"E","v":3.9},{"p":"E","id":"e7","o":4,"c":"D10 IN","g":"E","v":3.75},
{"p":"E","id":"e8","o":1,"c":"D38 IM","g":"S","v":3.27},{"p":"E","id":"e8","o":2,"c":"D38 IM","g":"S","v":4.55},{"p":"E","id":"e8","o":3,"c":"D38 IM","g":"SE","v":4.55},{"p":"E","id":"e8","o":4,"c":"D38 IM","g":"SE","v":4.31},
{"p":"E","id":"e9","o":1,"c":"D38 IM","g":"S","v":4.76},{"p":"E","id":"e9","o":2,"c":"D38 IM","g":"S","v":5.03},{"p":"E","id":"e9","o":3,"c":"D38 IN","g":"S","v":5.03},{"p":"E","id":"e9","o":4,"c":"D38 IN","g":"S","v":0.21},
{"p":"E","id":"e10","o":1,"c":"D38 IM","g":"SE","v":4.71},{"p":"E","id":"e10","o":2,"c":"D38 IM","g":"SE","v":4.9},{"p":"E","id":"e10","o":3,"c":"D38 IN","g":"SE","v":4.9},{"p":"E","id":"e10","o":4,"c":"D38 IN","g":"SE","v":0.21},
{"p":"E","id":"e11","o":1,"c":"D38 IM","g":"E","v":3.75},{"p":"E","id":"e11","o":2,"c":"D38 IM","g":"E","v":4.82},{"p":"E","id":"e11","o":3,"c":"D38 IN","g":"E","v":4.82},{"p":"E","id":"e11","o":4,"c":"D38 IN","g":"E","v":0.21},
{"p":"F","id":"f1","o":1,"c":"D3 IM","g":"SE","v":1.8},{"p":"F","id":"f1","o":2,"c":"D3 IM","g":"SE","v":3.47},{"p":"F","id":"f1","o":3,"c":"D3 IN","g":"SE","v":3.47},{"p":"F","id":"f1","o":4,"c":"D3 IN","g":"SE","v":3.2},
{"p":"F","id":"f2","o":1,"c":"D3 IM","g":"E","v":1.42},{"p":"F","id":"f2","o":2,"c":"D3 IM","g":"E","v":3.3},{"p":"F","id":"f2","o":3,"c":"D3 IN","g":"E","v":3.3},{"p":"F","id":"f2","o":4,"c":"D3 IN","g":"E","v":2.84},
{"p":"F","id":"f3","o":1,"c":"D10 IM","g":"S","v":3.14},{"p":"F","id":"f3","o":2,"c":"D10 IM","g":"S","v":3.31},{"p":"F","id":"f3","o":3,"c":"D10 IN","g":"S","v":3.31},{"p":"F","id":"f3","o":4,"c":"D10 IN","g":"S","v":0.52},
{"p":"F","id":"f4","o":1,"c":"D10 IM","g":"SE","v":2.5},{"p":"F","id":"f4","o":2,"c":"D10 IM","g":"SE","v":3.16},{"p":"F","id":"f4","o":3,"c":"D10 IN","g":"SE","v":3.16},{"p":"F","id":"f4","o":4,"c":"D10 IN","g":"SE","v":0.52},
{"p":"F","id":"f5","o":1,"c":"D10 IM","g":"E","v":2.6},{"p":"F","id":"f5","o":2,"c":"D10 IM","g":"E","v":2.92},{"p":"F","id":"f5","o":3,"c":"D10 IN","g":"E","v":2.92},{"p":"F","id":"f5","o":4,"c":"D10 IN","g":"E","v":0.9},
{"p":"F","id":"f6","o":1,"c":"D38 IM","g":"S","v":1.94},{"p":"F","id":"f6","o":2,"c":"D38 IM","g":"S","v":2.73},{"p":"F","id":"f6","o":3,"c":"D38 IM","g":"SE","v":2.73},{"p":"F","id":"f6","o":4,"c":"D38 IM","g":"SE","v":2.4},
{"p":"F","id":"f7","o":1,"c":"D38 IM","g":"S","v":2.73},{"p":"F","id":"f7","o":2,"c":"D38 IM","g":"S","v":2.85},{"p":"F","id":"f7","o":3,"c":"D38 IN","g":"S","v":2.85},{"p":"F","id":"f7","o":4,"c":"D38 IN","g":"S","v":0.15},
{"p":"F","id":"f8","o":1,"c":"D38 IM","g":"SE","v":2.4},{"p":"F","id":"f8","o":2,"c":"D38 IM","g":"SE","v":2.71},{"p":"F","id":"f8","o":3,"c":"D38 IN","g":"SE","v":2.71},{"p":"F","id":"f8","o":4,"c":"D38 IN","g":"SE","v":0.15},
{"p":"F","id":"f9","o":1,"c":"D38 IM","g":"E","v":1.76},{"p":"F","id":"f9","o":2,"c":"D38 IM","g":"E","v":1.98},{"p":"F","id":"f9","o":3,"c":"D38 IN","g":"E","v":1.98},{"p":"F","id":"f9","o":4,"c":"D38 IN","g":"E","v":0.15}
],
"lab":[
{"p":"A","c":"D10 IM","g":"SE","v":32.1,"t":"***"},{"p":"A","c":"D10 IN","g":"SE","v":37.1,"t":"*"},{"p":"A","c":"D38 IM","g":"E","v":26.6,"t":"****"},
{"p":"C","c":"D3 IM","g":"E","v":21.0,"t":"****"},{"p":"C","c":"D3 IM","g":"SE","v":17.4,"t":"*"},{"p":"C","c":"D10 IM","g":"E","v":27.0,"t":"****"},{"p":"C","c":"D10 IM","g":"SE","v":24.0,"t":"*"},
{"p":"D","c":"D10 IN","g":"S","v":5.28,"t":"*"},
{"p":"E","c":"D3 IM","g":"E","v":2.07,"t":"***"},{"p":"E","c":"D3 IN","g":"S","v":2.46,"t":"**"},{"p":"E","c":"D3 IN","g":"S","v":3.37,"t":"****"},{"p":"E","c":"D10 IM","g":"E","v":4.82,"t":"**"},{"p":"E","c":"D10 IN","g":"S","v":4.39,"t":"****"},{"p":"E","c":"D10 IN","g":"SE","v":3.9,"t":"*"},{"p":"E","c":"D38 IM","g":"S","v":4.55,"t":"***"},{"p":"E","c":"D38 IN","g":"S","v":5.03,"t":"****"},
{"p":"F","c":"D3 IN","g":"S","v":3.47,"t":"**"},{"p":"F","c":"D10 IM","g":"E","v":3.31,"t":"****"},{"p":"F","c":"D38 IM","g":"SE","v":2.73,"t":"*"},{"p":"F","c":"D38 IN","g":"S","v":2.85,"t":"****"},{"p":"F","c":"D38 IN","g":"S","v":1.98,"t":"****"}
]
},
"concat":[
{"width":368,"height":156,"title":{"text":"A","offset":-5,"dx":-7},
 "encoding":{"x":{"field":"c","type":"nominal","scale":{"domain":["D3 IM","D3 IN","D10 IM","D10 IN","D38 IM","D38 IN"],"paddingInner":0.2,"paddingOuter":0.14},"title":null},
  "xOffset":{"field":"g","type":"nominal","scale":{"domain":["S","SE","E"],"paddingInner":0.38,"paddingOuter":0.19}},
  "y":{"field":"v","type":"quantitative","scale":{"domain":[0,40],"nice":false},"axis":{"values":[0,10,20,30,40]},"title":"% CD4+"}},
 "layer":[
  {"data":{"name":"bars"},"transform":[{"filter":"datum.p=='A'"}],"mark":{"type":"bar","fill":"white","strokeWidth":1.8},"encoding":{"stroke":{"field":"g","type":"nominal","scale":{"domain":["S","SE","E"],"range":["#3d56a8","#ec2127","#000000"]},"legend":null}}},
  {"data":{"name":"bars"},"transform":[{"filter":"datum.p=='A'"}],"mark":{"type":"rule","strokeWidth":1.2},"encoding":{"y":{"field":"lo","type":"quantitative","scale":{"domain":[0,40],"nice":false},"title":"% CD4+"},"y2":{"field":"hi"},"stroke":{"field":"g","type":"nominal","legend":null}}},
  {"data":{"name":"bars"},"transform":[{"filter":"datum.p=='A'"}],"mark":{"type":"tick","orient":"horizontal","size":7,"thickness":1.2},"encoding":{"y":{"field":"lo","type":"quantitative","scale":{"domain":[0,40],"nice":false},"title":"% CD4+"},"stroke":{"field":"g","type":"nominal","legend":null}}},
  {"data":{"name":"bars"},"transform":[{"filter":"datum.p=='A'"}],"mark":{"type":"tick","orient":"horizontal","size":7,"thickness":1.2},"encoding":{"y":{"field":"hi","type":"quantitative","scale":{"domain":[0,40],"nice":false},"title":"% CD4+"},"stroke":{"field":"g","type":"nominal","legend":null}}},
  {"data":{"name":"pts"},"transform":[{"filter":"datum.p=='A' && datum.r%2==1"}],"mark":{"type":"point","filled":true,"size":40,"opacity":1,"strokeWidth":0},"encoding":{"x":{"field":"c","type":"nominal","bandPosition":-0.05,"title":null},"fill":{"field":"g","type":"nominal","scale":{"domain":["S","SE","E"],"range":["#3d56a8","#ec2127","#000000"]},"legend":null}}},
  {"data":{"name":"pts"},"transform":[{"filter":"datum.p=='A' && datum.r%2==0"}],"mark":{"type":"point","filled":true,"size":40,"opacity":1,"strokeWidth":0},"encoding":{"x":{"field":"c","type":"nominal","bandPosition":0.05,"title":null},"fill":{"field":"g","type":"nominal","legend":null}}},
  {"data":{"name":"br"},"transform":[{"filter":"datum.p=='A'"}],"mark":{"type":"line","stroke":"#222","strokeWidth":1},"encoding":{"detail":{"field":"id"},"order":{"field":"o","type":"quantitative"}}},
  {"data":{"name":"lab"},"transform":[{"filter":"datum.p=='A'"}],"mark":{"type":"text","baseline":"alphabetic","fontSize":12,"color":"#000"},"encoding":{"text":{"field":"t"}}}
 ]},
{"width":238,"height":156,"title":{"text":"B","offset":-5,"dx":-12},
 "encoding":{"x":{"field":"c","type":"nominal","scale":{"domain":["D3 IM","D3 IN","D10 IM","D10 IN"],"paddingInner":0.2,"paddingOuter":0.04},"title":null},
  "xOffset":{"field":"g","type":"nominal","scale":{"domain":["S","SE","E"],"paddingInner":0.38,"paddingOuter":0.19}},
  "y":{"field":"v","type":"quantitative","scale":{"domain":[0,6],"nice":false},"axis":{"values":[0,2,4,6]},"title":"% CD4+ CD69+"}},
 "layer":[
  {"data":{"name":"bars"},"transform":[{"filter":"datum.p=='B'"}],"mark":{"type":"bar","fill":"white","strokeWidth":1.8},"encoding":{"stroke":{"field":"g","type":"nominal","scale":{"domain":["S","SE","E"],"range":["#3d56a8","#ec2127","#000000"]},"legend":null}}},
  {"data":{"name":"bars"},"transform":[{"filter":"datum.p=='B'"}],"mark":{"type":"rule","strokeWidth":1.2},"encoding":{"y":{"field":"lo","type":"quantitative","scale":{"domain":[0,6],"nice":false},"title":"% CD4+ CD69+"},"y2":{"field":"hi"},"stroke":{"field":"g","type":"nominal","legend":null}}},
  {"data":{"name":"bars"},"transform":[{"filter":"datum.p=='B'"}],"mark":{"type":"tick","orient":"horizontal","size":7,"thickness":1.2},"encoding":{"y":{"field":"hi","type":"quantitative","scale":{"domain":[0,6],"nice":false},"title":"% CD4+ CD69+"},"stroke":{"field":"g","type":"nominal","legend":null}}},
  {"data":{"name":"pts"},"transform":[{"filter":"datum.p=='B' && datum.r%2==1"}],"mark":{"type":"point","filled":true,"size":40,"opacity":1,"strokeWidth":0},"encoding":{"x":{"field":"c","type":"nominal","bandPosition":-0.05,"title":null},"fill":{"field":"g","type":"nominal","scale":{"domain":["S","SE","E"],"range":["#3d56a8","#ec2127","#000000"]},"legend":{"orient":"none","legendX":18,"legendY":9,"title":null,"labelExpr":"datum.label=='S' ? 'VSV-SARS2' : datum.label=='SE' ? 'VSV-SARS2-EBOV' : 'VSV-EBOV'"}}}},
  {"data":{"name":"pts"},"transform":[{"filter":"datum.p=='B' && datum.r%2==0"}],"mark":{"type":"point","filled":true,"size":40,"opacity":1,"strokeWidth":0},"encoding":{"x":{"field":"c","type":"nominal","bandPosition":0.05,"title":null},"fill":{"field":"g","type":"nominal"}}}
 ]},
{"width":357,"height":156,"title":{"text":"C","offset":-20,"dx":-7},
 "encoding":{"x":{"field":"c","type":"nominal","scale":{"domain":["D3 IM","D3 IN","D10 IM","D10 IN","D38 IM","D38 IN"],"paddingInner":0.2,"paddingOuter":0.065},"title":null},
  "xOffset":{"field":"g","type":"nominal","scale":{"domain":["S","SE","E"],"paddingInner":0.38,"paddingOuter":0.19}},
  "y":{"field":"v","type":"quantitative","scale":{"domain":[0,25],"nice":false},"axis":{"values":[0,5,10,15,20,25]},"title":"% CD8+"}},
 "layer":[
  {"data":{"name":"bars"},"transform":[{"filter":"datum.p=='C'"}],"mark":{"type":"bar","fill":"white","strokeWidth":1.8},"encoding":{"stroke":{"field":"g","type":"nominal","scale":{"domain":["S","SE","E"],"range":["#3d56a8","#ec2127","#000000"]},"legend":null}}},
  {"data":{"name":"bars"},"transform":[{"filter":"datum.p=='C'"}],"mark":{"type":"rule","strokeWidth":1.2},"encoding":{"y":{"field":"lo","type":"quantitative","scale":{"domain":[0,25],"nice":false},"title":"% CD8+"},"y2":{"field":"hi"},"stroke":{"field":"g","type":"nominal","legend":null}}},
  {"data":{"name":"bars"},"transform":[{"filter":"datum.p=='C'"}],"mark":{"type":"tick","orient":"horizontal","size":7,"thickness":1.2},"encoding":{"y":{"field":"lo","type":"quantitative","scale":{"domain":[0,25],"nice":false},"title":"% CD8+"},"stroke":{"field":"g","type":"nominal","legend":null}}},
  {"data":{"name":"bars"},"transform":[{"filter":"datum.p=='C'"}],"mark":{"type":"tick","orient":"horizontal","size":7,"thickness":1.2},"encoding":{"y":{"field":"hi","type":"quantitative","scale":{"domain":[0,25],"nice":false},"title":"% CD8+"},"stroke":{"field":"g","type":"nominal","legend":null}}},
  {"data":{"name":"pts"},"transform":[{"filter":"datum.p=='C' && datum.r%2==1"}],"mark":{"type":"point","filled":true,"size":40,"opacity":1,"strokeWidth":0},"encoding":{"x":{"field":"c","type":"nominal","bandPosition":-0.05,"title":null},"fill":{"field":"g","type":"nominal","scale":{"domain":["S","SE","E"],"range":["#3d56a8","#ec2127","#000000"]},"legend":null}}},
  {"data":{"name":"pts"},"transform":[{"filter":"datum.p=='C' && datum.r%2==0"}],"mark":{"type":"point","filled":true,"size":40,"opacity":1,"strokeWidth":0},"encoding":{"x":{"field":"c","type":"nominal","bandPosition":0.05,"title":null},"fill":{"field":"g","type":"nominal","legend":null}}},
  {"data":{"name":"br"},"transform":[{"filter":"datum.p=='C'"}],"mark":{"type":"line","stroke":"#222","strokeWidth":1},"encoding":{"detail":{"field":"id"},"order":{"field":"o","type":"quantitative"}}},
  {"data":{"name":"lab"},"transform":[{"filter":"datum.p=='C'"}],"mark":{"type":"text","baseline":"alphabetic","fontSize":12,"color":"#000"},"encoding":{"text":{"field":"t"}}}
 ]},
{"width":244,"height":156,"title":{"text":"D","offset":-5,"dx":-12},
 "encoding":{"x":{"field":"c","type":"nominal","scale":{"domain":["D3 IM","D3 IN","D10 IM","D10 IN"],"paddingInner":0.2,"paddingOuter":0.047},"title":null},
  "xOffset":{"field":"g","type":"nominal","scale":{"domain":["S","SE","E"],"paddingInner":0.38,"paddingOuter":0.19}},
  "y":{"field":"v","type":"quantitative","scale":{"domain":[0,6],"nice":false},"axis":{"values":[0,2,4,6]},"title":"% CD8+ CD69+"}},
 "layer":[
  {"data":{"name":"bars"},"transform":[{"filter":"datum.p=='D'"}],"mark":{"type":"bar","fill":"white","strokeWidth":1.8},"encoding":{"stroke":{"field":"g","type":"nominal","scale":{"domain":["S","SE","E"],"range":["#3d56a8","#ec2127","#000000"]},"legend":null}}},
  {"data":{"name":"bars"},"transform":[{"filter":"datum.p=='D'"}],"mark":{"type":"rule","strokeWidth":1.2},"encoding":{"y":{"field":"lo","type":"quantitative","scale":{"domain":[0,6],"nice":false},"title":"% CD8+ CD69+"},"y2":{"field":"hi"},"stroke":{"field":"g","type":"nominal","legend":null}}},
  {"data":{"name":"bars"},"transform":[{"filter":"datum.p=='D'"}],"mark":{"type":"tick","orient":"horizontal","size":7,"thickness":1.2},"encoding":{"y":{"field":"hi","type":"quantitative","scale":{"domain":[0,6],"nice":false},"title":"% CD8+ CD69+"},"stroke":{"field":"g","type":"nominal","legend":null}}},
  {"data":{"name":"pts"},"transform":[{"filter":"datum.p=='D' && datum.r%2==1"}],"mark":{"type":"point","filled":true,"size":40,"opacity":1,"strokeWidth":0},"encoding":{"x":{"field":"c","type":"nominal","bandPosition":-0.05,"title":null},"fill":{"field":"g","type":"nominal","scale":{"domain":["S","SE","E"],"range":["#3d56a8","#ec2127","#000000"]},"legend":null}}},
  {"data":{"name":"pts"},"transform":[{"filter":"datum.p=='D' && datum.r%2==0"}],"mark":{"type":"point","filled":true,"size":40,"opacity":1,"strokeWidth":0},"encoding":{"x":{"field":"c","type":"nominal","bandPosition":0.05,"title":null},"fill":{"field":"g","type":"nominal","legend":null}}},
  {"data":{"name":"br"},"transform":[{"filter":"datum.p=='D'"}],"mark":{"type":"line","stroke":"#222","strokeWidth":1},"encoding":{"detail":{"field":"id"},"order":{"field":"o","type":"quantitative"}}},
  {"data":{"name":"lab"},"transform":[{"filter":"datum.p=='D'"}],"mark":{"type":"text","baseline":"alphabetic","fontSize":12,"color":"#000"},"encoding":{"text":{"field":"t"}}}
 ]},
{"width":343,"height":156,"title":{"text":"E","offset":7,"dx":-7},
 "encoding":{"x":{"field":"c","type":"nominal","scale":{"domain":["D3 IM","D3 IN","D10 IM","D10 IN","D38 IM","D38 IN"],"paddingInner":0.13,"paddingOuter":0.11},"title":null},
  "xOffset":{"field":"g","type":"nominal","scale":{"domain":["S","SE","E"],"paddingInner":0.38,"paddingOuter":0.19}},
  "y":{"field":"v","type":"quantitative","scale":{"domain":[0,5],"nice":false},"axis":{"values":[0,1,2,3,4,5]},"title":"% CD94+"}},
 "layer":[
  {"data":{"name":"bars"},"transform":[{"filter":"datum.p=='E'"}],"mark":{"type":"bar","fill":"white","strokeWidth":1.8},"encoding":{"stroke":{"field":"g","type":"nominal","scale":{"domain":["S","SE","E"],"range":["#3d56a8","#ec2127","#000000"]},"legend":null}}},
  {"data":{"name":"bars"},"transform":[{"filter":"datum.p=='E'"}],"mark":{"type":"rule","strokeWidth":1.2},"encoding":{"y":{"field":"lo","type":"quantitative","scale":{"domain":[0,5],"nice":false},"title":"% CD94+"},"y2":{"field":"hi"},"stroke":{"field":"g","type":"nominal","legend":null}}},
  {"data":{"name":"bars"},"transform":[{"filter":"datum.p=='E'"}],"mark":{"type":"tick","orient":"horizontal","size":7,"thickness":1.2},"encoding":{"y":{"field":"lo","type":"quantitative","scale":{"domain":[0,5],"nice":false},"title":"% CD94+"},"stroke":{"field":"g","type":"nominal","legend":null}}},
  {"data":{"name":"bars"},"transform":[{"filter":"datum.p=='E'"}],"mark":{"type":"tick","orient":"horizontal","size":7,"thickness":1.2},"encoding":{"y":{"field":"hi","type":"quantitative","scale":{"domain":[0,5],"nice":false},"title":"% CD94+"},"stroke":{"field":"g","type":"nominal","legend":null}}},
  {"data":{"name":"pts"},"transform":[{"filter":"datum.p=='E' && datum.r%2==1"}],"mark":{"type":"point","filled":true,"size":40,"opacity":1,"strokeWidth":0},"encoding":{"x":{"field":"c","type":"nominal","bandPosition":-0.05,"title":null},"fill":{"field":"g","type":"nominal","scale":{"domain":["S","SE","E"],"range":["#3d56a8","#ec2127","#000000"]},"legend":null}}},
  {"data":{"name":"pts"},"transform":[{"filter":"datum.p=='E' && datum.r%2==0"}],"mark":{"type":"point","filled":true,"size":40,"opacity":1,"strokeWidth":0},"encoding":{"x":{"field":"c","type":"nominal","bandPosition":0.05,"title":null},"fill":{"field":"g","type":"nominal","legend":null}}},
  {"data":{"name":"br"},"transform":[{"filter":"datum.p=='E'"}],"mark":{"type":"line","stroke":"#222","strokeWidth":1},"encoding":{"detail":{"field":"id"},"order":{"field":"o","type":"quantitative"}}},
  {"data":{"name":"lab"},"transform":[{"filter":"datum.p=='E'"}],"mark":{"type":"text","baseline":"alphabetic","fontSize":12,"color":"#000"},"encoding":{"text":{"field":"t"}}}
 ]},
{"width":307,"height":156,"title":{"text":"F","offset":12,"dx":-12},
 "encoding":{"x":{"field":"c","type":"nominal","scale":{"domain":["D3 IM","D3 IN","D10 IM","D10 IN","D38 IM","D38 IN"],"paddingInner":0.13,"paddingOuter":0.03},"title":null},
  "xOffset":{"field":"g","type":"nominal","scale":{"domain":["S","SE","E"],"paddingInner":0.38,"paddingOuter":0.19}},
  "y":{"field":"v","type":"quantitative","scale":{"domain":[0,4],"nice":false},"axis":{"values":[0,1,2,3,4]},"title":"% B220+"}},
 "layer":[
  {"data":{"name":"bars"},"transform":[{"filter":"datum.p=='F'"}],"mark":{"type":"bar","fill":"white","strokeWidth":1.8},"encoding":{"stroke":{"field":"g","type":"nominal","scale":{"domain":["S","SE","E"],"range":["#3d56a8","#ec2127","#000000"]},"legend":null}}},
  {"data":{"name":"bars"},"transform":[{"filter":"datum.p=='F'"}],"mark":{"type":"rule","strokeWidth":1.2},"encoding":{"y":{"field":"lo","type":"quantitative","scale":{"domain":[0,4],"nice":false},"title":"% B220+"},"y2":{"field":"hi"},"stroke":{"field":"g","type":"nominal","legend":null}}},
  {"data":{"name":"bars"},"transform":[{"filter":"datum.p=='F'"}],"mark":{"type":"tick","orient":"horizontal","size":7,"thickness":1.2},"encoding":{"y":{"field":"lo","type":"quantitative","scale":{"domain":[0,4],"nice":false},"title":"% B220+"},"stroke":{"field":"g","type":"nominal","legend":null}}},
  {"data":{"name":"bars"},"transform":[{"filter":"datum.p=='F'"}],"mark":{"type":"tick","orient":"horizontal","size":7,"thickness":1.2},"encoding":{"y":{"field":"hi","type":"quantitative","scale":{"domain":[0,4],"nice":false},"title":"% B220+"},"stroke":{"field":"g","type":"nominal","legend":null}}},
  {"data":{"name":"pts"},"transform":[{"filter":"datum.p=='F' && datum.r%2==1"}],"mark":{"type":"point","filled":true,"size":40,"opacity":1,"strokeWidth":0},"encoding":{"x":{"field":"c","type":"nominal","bandPosition":-0.05,"title":null},"fill":{"field":"g","type":"nominal","scale":{"domain":["S","SE","E"],"range":["#3d56a8","#ec2127","#000000"]},"legend":null}}},
  {"data":{"name":"pts"},"transform":[{"filter":"datum.p=='F' && datum.r%2==0"}],"mark":{"type":"point","filled":true,"size":40,"opacity":1,"strokeWidth":0},"encoding":{"x":{"field":"c","type":"nominal","bandPosition":0.05,"title":null},"fill":{"field":"g","type":"nominal","legend":null}}},
  {"data":{"name":"br"},"transform":[{"filter":"datum.p=='F'"}],"mark":{"type":"line","stroke":"#222","strokeWidth":1},"encoding":{"detail":{"field":"id"},"order":{"field":"o","type":"quantitative"}}},
  {"data":{"name":"lab"},"transform":[{"filter":"datum.p=='F'"}],"mark":{"type":"text","baseline":"alphabetic","fontSize":12,"color":"#000"},"encoding":{"text":{"field":"t"}}}
 ]}
]
}
